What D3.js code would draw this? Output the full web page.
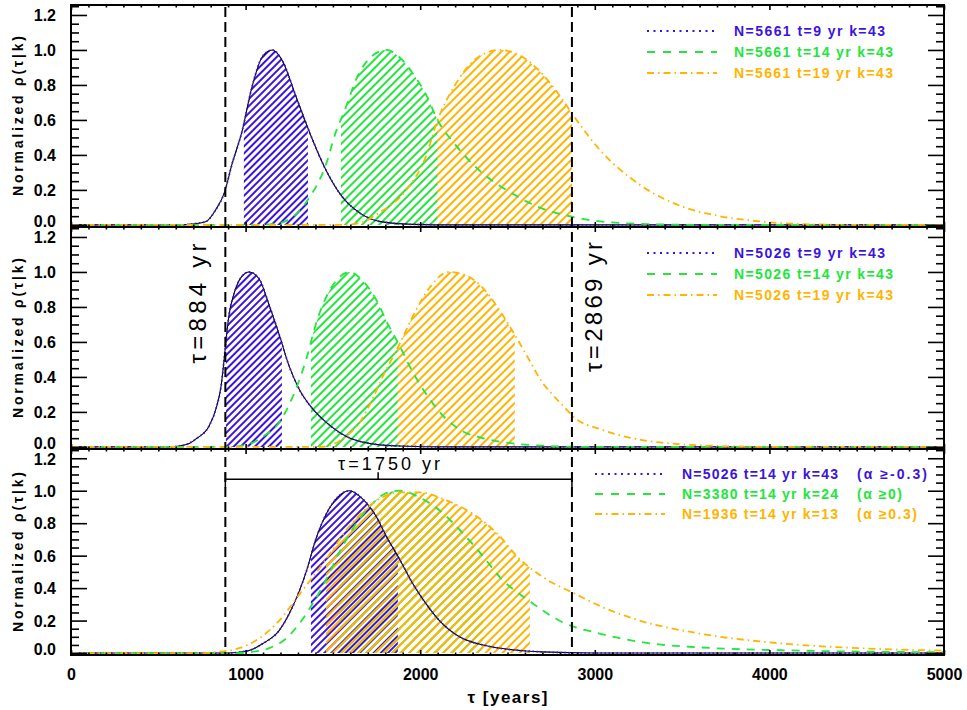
<!DOCTYPE html>
<html>
<head>
<meta charset="utf-8">
<script src="https://cdn.jsdelivr.net/npm/d3@7"></script>
<style>
  body { margin: 0; background: #fff; }
  svg { display: block; font-family: "Liberation Sans", Arial, sans-serif; }
</style>
</head>
<body>
<svg></svg>
<script>

var xTickVals = [0, 1000, 2000, 3000, 4000, 5000];
var yTickVals = [0, 0.2, 0.4, 0.6, 0.8, 1.0, 1.2];
var tauLimits = [884, 2869];
var tauSpan = 1750;

// [tau, normalized rho]
var n5661t9 = [[0,0],[640,0],[694,0.005],[774,0.02],[831,0.09],[877,0.18],[923,0.35],[981,0.54],[1032,0.77],[1095,0.96],[1153,1.0],[1210,0.94],[1290,0.73],[1382,0.49],[1462,0.31],[1554,0.16],[1651,0.07],[1766,0.02],[1955,0.003],[2200,0],[5000,0]];
var n5661t14 = [[0,0],[1080,0],[1193,0.01],[1347,0.13],[1462,0.35],[1520,0.54],[1554,0.62],[1651,0.87],[1730,0.97],[1806,1.0],[1880,0.96],[1955,0.87],[2036,0.74],[2099,0.6],[2200,0.46],[2340,0.31],[2510,0.19],[2683,0.1],[2855,0.05],[3030,0.02],[3300,0.005],[3600,0],[5000,0]];
var n5661t19 = [[0,0],[1550,0],[1651,0.01],[1766,0.07],[1921,0.2],[2036,0.4],[2093,0.58],[2200,0.8],[2320,0.95],[2454,1.0],[2569,0.97],[2683,0.88],[2798,0.74],[2867,0.64],[3028,0.43],[3257,0.23],[3486,0.11],[3716,0.05],[3945,0.02],[4174,0.005],[4500,0],[5000,0]];

var n5026t9 = [[0,0],[560,0],[619,0.005],[677,0.02],[722,0.05],[791,0.12],[831,0.22],[860,0.35],[877,0.5],[889,0.62],[906,0.76],[935,0.88],[975,0.97],[1021,1.0],[1078,0.96],[1135,0.81],[1193,0.64],[1250,0.46],[1307,0.33],[1382,0.22],[1462,0.14],[1577,0.06],[1709,0.02],[1881,0.005],[2170,0],[5000,0]];
var n5026t14 = [[0,0],[900,0],[963,0.005],[1032,0.02],[1101,0.06],[1193,0.14],[1267,0.28],[1347,0.5],[1405,0.71],[1479,0.89],[1537,0.97],[1594,1.0],[1670,0.95],[1749,0.84],[1806,0.72],[1881,0.58],[1956,0.43],[2036,0.3],[2110,0.2],[2225,0.1],[2380,0.045],[2530,0.02],[2700,0.007],[3000,0],[5000,0]];
var n5026t19 = [[0,0],[1430,0],[1488,0.01],[1546,0.04],[1660,0.15],[1735,0.29],[1775,0.38],[1878,0.58],[1975,0.78],[2061,0.92],[2164,1.0],[2262,0.98],[2348,0.92],[2462,0.77],[2548,0.63],[2634,0.48],[2691,0.38],[2748,0.31],[2823,0.23],[2880,0.17],[3035,0.1],[3264,0.04],[3493,0.015],[3722,0.005],[4000,0],[5000,0]];

var n3380t14 = [[0,0],[950,0],[1020,0.005],[1135,0.03],[1221,0.08],[1307,0.18],[1393,0.32],[1451,0.43],[1537,0.62],[1622,0.78],[1709,0.9],[1795,0.98],[1881,1.0],[1995,0.96],[2110,0.88],[2225,0.76],[2357,0.6],[2454,0.47],[2626,0.32],[2815,0.19],[3028,0.12],[3314,0.06],[3601,0.035],[4174,0.015],[5000,0.005]];
var n1936t14 = [[0,0],[760,0],[820,0.005],[963,0.03],[1078,0.09],[1193,0.2],[1307,0.36],[1456,0.57],[1594,0.78],[1726,0.92],[1881,0.99],[1995,0.99],[2150,0.94],[2299,0.86],[2437,0.74],[2569,0.58],[2700,0.47],[2896,0.36],[3050,0.28],[3257,0.2],[3601,0.12],[4060,0.06],[4518,0.03],[5000,0.015]];

var panelCurves = [
  [n5661t9, n5661t14, n5661t19],
  [n5026t9, n5026t14, n5026t19],
  [n5026t14, n3380t14, n1936t14]
];
// hatched tau intervals
var panelBands = [
  [[990, 1357], [1546, 2101], [2096, 2869]],
  [[887, 1208], [1374, 1872], [1872, 2542]],
  [[1374, 1872], [1534, 2359], [1460, 2628]]
];
var panelLabels = [
  ["N=5661 t=9 yr k=43", "N=5661 t=14 yr k=43", "N=5661 t=19 yr k=43"],
  ["N=5026 t=9 yr k=43", "N=5026 t=14 yr k=43", "N=5026 t=19 yr k=43"],
  ["N=5026 t=14 yr k=43", "N=3380 t=14 yr k=24", "N=1936 t=14 yr k=13"]
];
var alphaCuts = ["(α ≥-0.3)", "(α ≥0)", "(α ≥0.3)"];


var width = 967;
var height = 710;
var svg = d3.select("svg")
              .attr("width", width)
              .attr("height", height);

var x = d3.scaleLinear().domain([0, 5000]).range([71, 944]);
var panels = [{top: 5, bottom: 227}, {top: 227, bottom: 449}, {top: 449, bottom: 655}];
panels.forEach(p => {
  p.y = d3.scaleLinear().domain([-0.012, 1.257]).range([p.bottom, p.top]);
});

var colors = ["#3c14dc", "#22e63c", "#ffb400"];
var dashes = ["1.5,2.5", "8,7", "7,4,1.5,4"];
var legendDashes = ["2,4.5", "8,8", "7,4,1.5,4"];
var hatchGap = [5, 6, 6];

var defs = svg.append("defs");
colors.forEach((c, i) => {
  defs.append("pattern")
      .attr("id", "hatch" + i)
      .attr("patternUnits", "userSpaceOnUse")
      .attr("width", hatchGap[i])
      .attr("height", hatchGap[i])
      .attr("patternTransform", "rotate(45)")
    .append("line")
      .attr("x1", 1).attr("y1", 0)
      .attr("x2", 1).attr("y2", hatchGap[i])
      .attr("stroke", c)
      .attr("stroke-width", 2);
});

var minorY = d3.range(0, 1.26, 0.05).filter(v => Math.round(v * 20) % 4 !== 0);
var minorX = d3.range(0, 5001, 100).filter(v => v % 1000 !== 0);

function styleAxis(sel) {
  sel.select(".domain").remove();
  sel.selectAll(".tick line").attr("stroke", "#000").attr("stroke-width", 1.6);
  sel.selectAll("text")
     .attr("font-family", "Liberation Sans, Arial, sans-serif")
     .attr("font-weight", "bold")
     .attr("font-size", 16)
     .attr("fill", "#000");
}

panels.forEach((p, pi) => {
  var y = p.y;
  var g = svg.append("g");

  var area = d3.area()
    .x(d => x(d[0]))
    .y0(y(0))
    .y1(d => y(d[1]))
    .curve(d3.curveMonotoneX);
  var line = d3.line()
    .x(d => x(d[0]))
    .y(d => y(d[1]))
    .curve(d3.curveMonotoneX);

  // hatched intervals
  panelCurves[pi].forEach((curve, si) => {
    var band = panelBands[pi][si];
    var cid = "clip" + pi + "_" + si;
    defs.append("clipPath").attr("id", cid)
      .append("rect")
        .attr("x", x(band[0]))
        .attr("width", x(band[1]) - x(band[0]))
        .attr("y", p.top)
        .attr("height", p.bottom - p.top);
    g.append("path")
      .datum(curve)
      .attr("d", area)
      .attr("fill", "url(#hatch" + si + ")")
      .attr("clip-path", "url(#" + cid + ")");
  });

  // curves
  panelCurves[pi].forEach((curve, si) => {
    if (si === 0) {
      g.append("path")
        .datum(curve)
        .attr("d", line)
        .attr("fill", "none")
        .attr("stroke", "#000")
        .attr("stroke-width", 1.1);
    }
    g.append("path")
      .datum(curve)
      .attr("d", line)
      .attr("fill", "none")
      .attr("stroke", colors[si])
      .attr("stroke-width", 1.8)
      .attr("stroke-dasharray", dashes[si]);
  });

  // legend
  var lx = pi < 2 ? 647 : 595;
  var tx = pi < 2 ? 734 : 682;
  var rows = pi < 2 ? [26, 47, 68] : [25, 45, 65];
  var textLen = pi < 2 ? [151, 159, 159] : [156, 156, 156];
  panelLabels[pi].forEach((lab, si) => {
    var ry = p.top + rows[si];
    g.append("line")
      .attr("x1", lx).attr("x2", lx + 70)
      .attr("y1", ry).attr("y2", ry)
      .attr("stroke", colors[si])
      .attr("stroke-width", 2)
      .attr("stroke-dasharray", legendDashes[si]);
    g.append("text")
      .attr("x", tx).attr("y", ry)
      .attr("dy", "0.36em")
      .attr("fill", colors[si])
      .attr("font-weight", "bold")
      .attr("font-size", 14)
      .attr("textLength", textLen[si])
      .attr("lengthAdjust", "spacing")
      .text(lab);
    if (pi === 2) {
      g.append("text")
        .attr("x", 857).attr("y", ry)
        .attr("dy", "0.36em")
        .attr("fill", colors[si])
        .attr("font-weight", "bold")
        .attr("font-size", 14)
        .attr("textLength", [70, 45, 60][si])
        .attr("lengthAdjust", "spacing")
        .text(alphaCuts[si]);
    }
  });

  // axes
  svg.append("g")
      .attr("transform", "translate(" + x(0) + ",0)")
      .call(d3.axisLeft(y).tickValues(yTickVals).tickSize(-16).tickPadding(15).tickFormat(d3.format(".1f")))
      .call(styleAxis)
      .selectAll("text")
        .attr("dy", d => d === 0 ? "0.1em" : "0.36em");
  svg.append("g")
      .attr("transform", "translate(" + x(0) + ",0)")
      .call(d3.axisLeft(y).tickValues(minorY).tickSize(-8).tickFormat(""))
      .call(styleAxis);
  svg.append("g")
      .attr("transform", "translate(" + x(5000) + ",0)")
      .call(d3.axisRight(y).tickValues(yTickVals).tickSize(-16).tickFormat(""))
      .call(styleAxis);
  svg.append("g")
      .attr("transform", "translate(" + x(5000) + ",0)")
      .call(d3.axisRight(y).tickValues(minorY).tickSize(-8).tickFormat(""))
      .call(styleAxis);
  svg.append("g")
      .attr("transform", "translate(0," + p.top + ")")
      .call(d3.axisTop(x).tickValues(xTickVals).tickSize(-5).tickFormat(""))
      .call(styleAxis);
  svg.append("g")
      .attr("transform", "translate(0," + p.top + ")")
      .call(d3.axisTop(x).tickValues(minorX).tickSize(-2.5).tickFormat(""))
      .call(styleAxis);
  svg.append("g")
      .attr("transform", "translate(0," + p.bottom + ")")
      .call(d3.axisBottom(x).tickValues(xTickVals).tickSize(-5).tickPadding(14)
              .tickFormat(pi === 2 ? d3.format("d") : ""))
      .call(styleAxis);
  svg.append("g")
      .attr("transform", "translate(0," + p.bottom + ")")
      .call(d3.axisBottom(x).tickValues(minorX).tickSize(-2.5).tickFormat(""))
      .call(styleAxis);

  svg.append("rect")
    .attr("x", x(0)).attr("y", p.top)
    .attr("width", x(5000) - x(0))
    .attr("height", p.bottom - p.top)
    .attr("fill", "none")
    .attr("stroke", "#000")
    .attr("stroke-width", 2);

  // y title
  svg.append("text")
    .attr("transform", "translate(18," + (p.top + p.bottom) / 2 + ") rotate(-90)")
    .attr("text-anchor", "middle")
    .attr("dy", "0.36em")
    .attr("font-weight", "bold")
    .attr("font-size", 14)
    .attr("textLength", 160)
    .attr("lengthAdjust", "spacing")
    .text("Normalized ρ(τ|k)");
});

// vertical limits
svg.selectAll(".limit")
  .data(tauLimits)
  .enter()
  .append("line")
    .attr("class", "limit")
    .attr("x1", d => x(d)).attr("x2", d => x(d))
    .attr("y1", panels[0].top + 2)
    .attr("y2", panels[2].bottom)
    .attr("stroke", "#000")
    .attr("stroke-width", 2)
    .attr("stroke-dasharray", "10,5");

// limit labels in middle panel
var ym = panels[1].y;
svg.append("text")
  .attr("transform", "translate(" + (x(tauLimits[0]) - 28) + "," + ym(0.82) + ") rotate(-90)")
  .attr("text-anchor", "middle")
  .attr("dy", "0.36em")
  .attr("font-size", 24)
  .attr("textLength", 120)
  .attr("lengthAdjust", "spacing")
  .text("τ=" + tauLimits[0] + " yr");
svg.append("text")
  .attr("transform", "translate(" + (x(tauLimits[1]) + 21) + "," + ym(0.8) + ") rotate(-90)")
  .attr("text-anchor", "middle")
  .attr("dy", "0.36em")
  .attr("font-size", 24)
  .attr("textLength", 130)
  .attr("lengthAdjust", "spacing")
  .text("τ=" + tauLimits[1] + " yr");

// span bracket in bottom panel
var yb = panels[2].y;
var by = yb(1.07);
var mid = tauLimits[0] + tauSpan / 2;
var br = svg.append("g").attr("stroke", "#000").attr("stroke-width", 1.5);
br.append("line").attr("x1", x(tauLimits[0])).attr("x2", x(tauLimits[1])).attr("y1", by).attr("y2", by);
tauLimits.forEach(t => {
  br.append("line").attr("x1", x(t)).attr("x2", x(t)).attr("y1", by - 7).attr("y2", by + 8);
});
br.append("line").attr("x1", x(mid)).attr("x2", x(mid)).attr("y1", by - 7).attr("y2", by);
svg.append("text")
  .attr("x", x(mid) + 11)
  .attr("y", by - 9)
  .attr("text-anchor", "middle")
  .attr("font-size", 18)
  .attr("textLength", 102)
  .attr("lengthAdjust", "spacing")
  .text("τ=" + tauSpan + " yr");

// x title
svg.append("text")
  .attr("x", (x(0) + x(5000)) / 2)
  .attr("y", 697)
  .attr("dy", "0.36em")
  .attr("text-anchor", "middle")
  .attr("font-weight", "bold")
  .attr("font-size", 17)
  .attr("textLength", 80)
  .attr("lengthAdjust", "spacing")
  .text("τ [years]");

</script>
</body>
</html>
